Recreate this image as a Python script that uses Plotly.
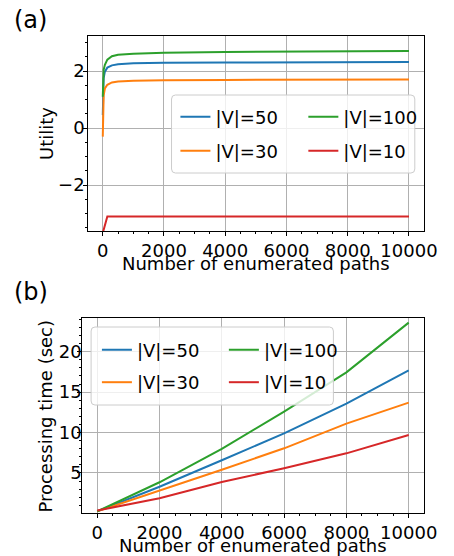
import plotly.graph_objects as go

W, H = 454, 556

# ---------------- data ----------------
# (a) utility vs number of enumerated paths
paths_a = [1, 10, 30, 70, 150, 300, 500, 1000, 2000, 4000, 6000, 8000, 10000]
util_v50 = [0.46, 1.30, 1.75, 1.98, 2.12, 2.20, 2.24, 2.27, 2.29, 2.30, 2.31, 2.31, 2.32]
util_v30 = [-0.30, 0.70, 1.15, 1.39, 1.52, 1.60, 1.63, 1.66, 1.68, 1.69, 1.70, 1.70, 1.70]
util_v100 = [1.10, 1.75, 2.05, 2.22, 2.40, 2.52, 2.57, 2.61, 2.64, 2.67, 2.68, 2.69, 2.70]
util_v10 = [-3.68, -3.64, -3.56, -3.40, -3.10, -3.10, -3.10, -3.10, -3.10, -3.10, -3.10, -3.10, -3.10]

# (b) processing time vs number of enumerated paths
paths_b = [0, 2000, 4000, 6000, 8000, 10000]
time_v50 = [0.25, 3.3, 6.57, 9.9, 13.57, 17.7]
time_v30 = [0.25, 2.78, 5.4, 8.05, 11.1, 13.7]
time_v100 = [0.25, 3.85, 7.97, 12.6, 17.45, 23.6]
time_v10 = [0.35, 1.87, 3.89, 5.58, 7.43, 9.7]

labels = ["|V|=50", "|V|=30", "|V|=100", "|V|=10"]
colors = {"|V|=50": "#1f77b4", "|V|=30": "#ff7f0e", "|V|=100": "#2ca02c", "|V|=10": "#d62728"}

series_a = {"|V|=50": util_v50, "|V|=30": util_v30, "|V|=100": util_v100, "|V|=10": util_v10}
series_b = {"|V|=50": time_v50, "|V|=30": time_v30, "|V|=100": time_v100, "|V|=10": time_v10}

FONT = "DejaVu Sans"


def px_x(v):
    return v / W


def px_y(v):
    return 1 - v / H


# legend entry placement (text start x, row centre y) in pixels
leg_pos_a = {"|V|=50": (216, 117), "|V|=30": (216, 151), "|V|=100": (348, 117), "|V|=10": (348, 151)}
leg_pos_b = {"|V|=50": (135, 350), "|V|=30": (135, 382.5), "|V|=100": (266, 350), "|V|=10": (266, 382.5)}
TEXT_OFFSET = 35

fig = go.Figure()
legends = {}
k = 1
for lab in labels:
    name = "legend" if k == 1 else f"legend{k}"
    fig.add_trace(go.Scatter(x=paths_a, y=series_a[lab], mode="lines", name=lab,
                             line=dict(color=colors[lab], width=2),
                             xaxis="x", yaxis="y", legend=name))
    tx, ty = leg_pos_a[lab]
    legends[name] = dict(x=px_x(tx - TEXT_OFFSET), y=px_y(ty), xanchor="left", yanchor="middle",
                         bgcolor="rgba(0,0,0,0)", borderwidth=0,
                         font=dict(family=FONT, size=18, color="black"))
    k += 1
for lab in labels:
    name = f"legend{k}"
    fig.add_trace(go.Scatter(x=paths_b, y=series_b[lab], mode="lines", name=lab,
                             line=dict(color=colors[lab], width=2),
                             xaxis="x2", yaxis="y2", legend=name))
    tx, ty = leg_pos_b[lab]
    legends[name] = dict(x=px_x(tx - TEXT_OFFSET), y=px_y(ty), xanchor="left", yanchor="middle",
                         bgcolor="rgba(0,0,0,0)", borderwidth=0,
                         font=dict(family=FONT, size=18, color="black"))
    k += 1

axis_common = dict(
    showline=True, linecolor="black", linewidth=1, mirror=True,
    ticks="outside", ticklen=4, tickwidth=1, tickcolor="black",
    showgrid=True, gridcolor="#b0b0b0", gridwidth=1, zeroline=False,
    tickfont=dict(family=FONT, size=18, color="black"),
)
minor_common = dict(ticklen=2, tickcolor="black", ticks="outside", showgrid=False)

fig.update_layout(
    width=W, height=H,
    margin=dict(l=0, r=0, t=0, b=0),
    paper_bgcolor="white", plot_bgcolor="white",
    font=dict(family=FONT, size=18, color="black"),
    xaxis=dict(domain=[px_x(91), px_x(437)], anchor="y", range=[-475, 10475],
               dtick=2000, tick0=0, tickformat="d", ticklabelstandoff=-1,
               minor=dict(dtick=500, **minor_common), **axis_common),
    yaxis=dict(domain=[px_y(231), px_y(36)], anchor="x", range=[-3.61, 3.23],
               dtick=2, tick0=0, ticklabelstandoff=-5,
               minor=dict(dtick=0.5, **minor_common), **axis_common),
    xaxis2=dict(domain=[px_x(85), px_x(437)], anchor="y2", range=[-476, 10476],
                dtick=2000, tick0=0, tickformat="d", ticklabelstandoff=-1,
                minor=dict(dtick=500, **minor_common), **axis_common),
    yaxis2=dict(domain=[px_y(513), px_y(318)], anchor="x2", range=[0.05, 24.17],
                dtick=5, tick0=0, ticklabelstandoff=-8,
                minor=dict(dtick=1, **minor_common), **axis_common),
    showlegend=True,
    **legends,
)


def rounded_box(x0, y0, x1, y1, r=4):
    # pixel coords (top-left origin) -> paper path with rounded corners
    rx, ry = r / W, r / H
    X0, X1 = px_x(x0), px_x(x1)
    Yt, Yb = px_y(y0), px_y(y1)
    return (f"M{X0 + rx},{Yt} L{X1 - rx},{Yt} Q{X1},{Yt} {X1},{Yt - ry} "
            f"L{X1},{Yb + ry} Q{X1},{Yb} {X1 - rx},{Yb} "
            f"L{X0 + rx},{Yb} Q{X0},{Yb} {X0},{Yb + ry} "
            f"L{X0},{Yt - ry} Q{X0},{Yt} {X0 + rx},{Yt} Z")


shapes = [
    dict(type="path", path=rounded_box(177, 95, 428, 173), xref="paper", yref="paper",
         fillcolor="rgba(255,255,255,0.8)", line=dict(color="#cccccc", width=1), layer="above"),
    dict(type="path", path=rounded_box(94, 327, 344, 405), xref="paper", yref="paper",
         fillcolor="rgba(255,255,255,0.8)", line=dict(color="#cccccc", width=1), layer="above"),
]
fig.update_layout(shapes=shapes)

ann = [
    dict(text="(a)", x=px_x(12), y=px_y(20), xanchor="left", yanchor="middle", font=dict(size=24)),
    dict(text="(b)", x=px_x(12), y=px_y(292), xanchor="left", yanchor="middle", font=dict(size=24)),
    dict(text="Utility", x=px_x(48), y=px_y(133.5), textangle=-90, xanchor="center", yanchor="middle"),
    dict(text="Processing time (sec)", x=px_x(46), y=px_y(416), textangle=-90, xanchor="center", yanchor="middle"),
    dict(text="Number of enumerated paths", x=px_x(264), y=px_y(264), xanchor="center", yanchor="middle"),
    dict(text="Number of enumerated paths", x=px_x(261), y=px_y(545), xanchor="center", yanchor="middle"),
]
for a in ann:
    a.update(xref="paper", yref="paper", showarrow=False)
    size = a.get("font", {}).get("size", 18)
    a["font"] = dict(family=FONT, size=size, color="black")
fig.update_layout(annotations=ann)

fig.write_html("out.html")
